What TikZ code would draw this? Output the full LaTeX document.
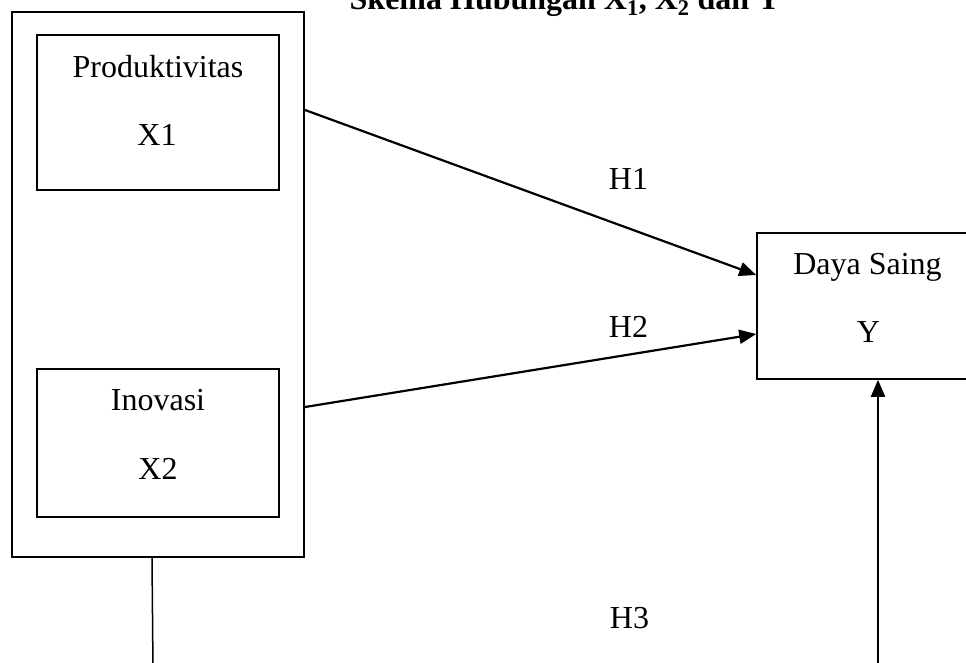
\documentclass[tikz,border=0pt]{standalone}
\usepackage{fontspec}
\setmainfont{Liberation Serif}
\usetikzlibrary{arrows.meta}
\begin{document}
\begin{tikzpicture}[x=1pt,y=-1pt,
  box/.style={draw,line width=1.6pt,inner sep=0pt,minimum width=#1},
  lbl/.style={anchor=base,inner sep=0pt,font=\fontsize{32}{38}\selectfont},
  conn/.style={line width=2.2pt,-{Triangle[length=17pt,width=14pt]}},
  plainconn/.style={line width=1.5pt}]
\useasboundingbox (0,0) rectangle (966,662);
% title
\node[lbl,font=\bfseries\fontsize{32}{38}\selectfont] (title) at (565,9.5) {Skema Hubungan X\textsubscript{1}, X\textsubscript{2} dan Y};
% boxes
\node[box=292pt,minimum height=545pt,line width=2pt] (outer) at (158,284.5) {};
\node[box=242pt,minimum height=155pt] (x1) at (158,112.5) {};
\node[box=242pt,minimum height=148pt] (x2) at (158,443) {};
\node[box=228pt,minimum height=146pt] (yb) at (871,306) {};
% texts
\node[lbl] (t1a) at (158,77) {Produktivitas};
\node[lbl] (t1b) at (157,145) {X1};
\node[lbl] (t2a) at (158,410) {Inovasi};
\node[lbl] (t2b) at (158,479) {X2};
\node[lbl] (tya) at (867.5,274) {Daya Saing};
\node[lbl] (tyb) at (868.5,342.5) {Y};
\node[lbl] (h1) at (628.5,189) {H1};
\node[lbl] (h2) at (628.5,337) {H2};
\node[lbl] (h3) at (629.5,628) {H3};
% connectors
\coordinate (bl) at (153,670);
\coordinate (br) at (878,670);
\draw[conn] ([yshift=-99pt]outer.north east) -- ([yshift=31pt]yb.west);
\draw[conn] ([yshift=-396pt]outer.north east) -- ([yshift=-28pt]yb.west);
\draw[conn] (br) -- ([xshift=7pt]yb.south);
\draw[plainconn] ([xshift=-6pt]outer.south) -- (bl);
\end{tikzpicture}
\end{document}
